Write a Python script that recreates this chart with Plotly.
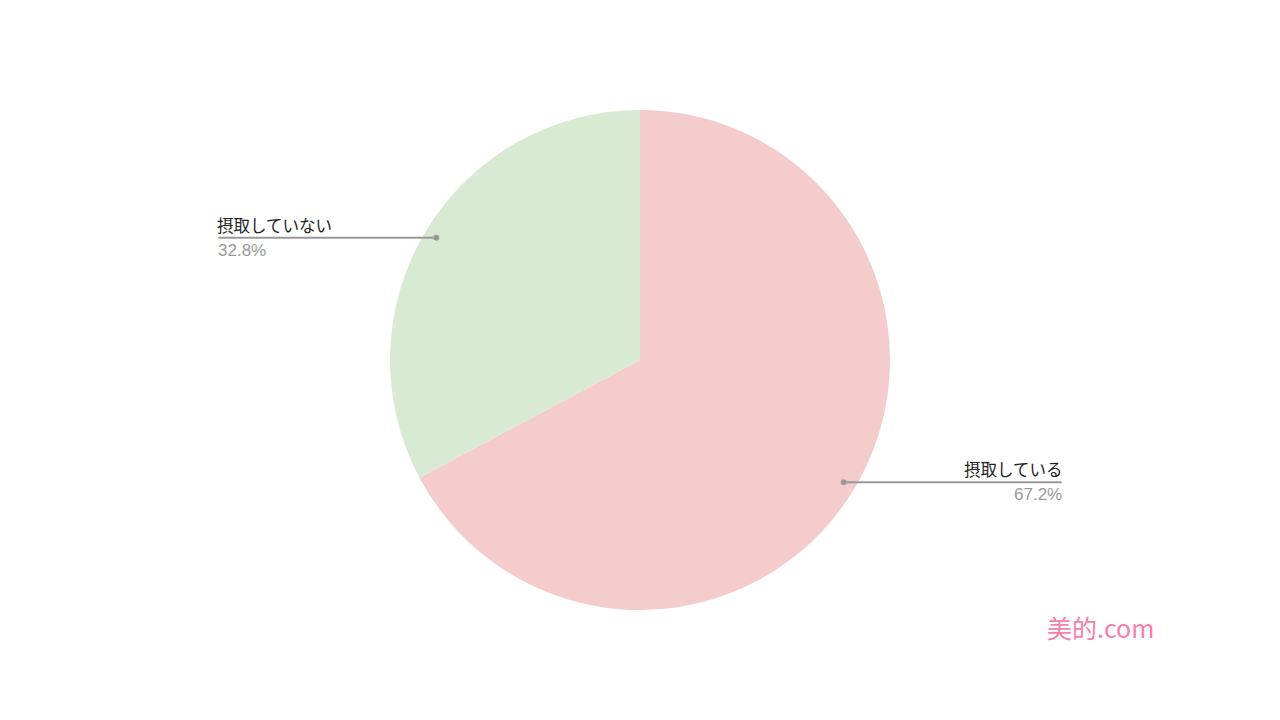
import numpy as np
import plotly.graph_objects as go

# === DONNÉES ===
labels = ["摂取している", "摂取していない"]
values = [67.2, 32.8]
colors = ["#F4CCCC", "#D9EAD3"]

# === MISE EN PAGE ===
W, H = 1280, 720
cx, cy, r = 640, 360, 250      # centre et rayon du camembert (px)
dot_r = 0.95 * r               # position du point de repère
lead_len = 218                 # longueur de la ligne horizontale (px)
font = "Liberation Sans, Arial, Noto Sans CJK JP, sans-serif"

fig = go.Figure(go.Pie(
    labels=labels,
    values=values,
    marker=dict(colors=colors, line=dict(width=0)),
    sort=False,
    direction="clockwise",
    rotation=0,
    textinfo="none",
    hoverinfo="label+percent",
    showlegend=False,
    domain=dict(x=[0, 1], y=[1 - (cy + r) / H, 1 - (cy - r) / H]),
))

shapes = []
annotations = []
total = sum(values)
start = 0.0
for lab, val in zip(labels, values):
    frac = val / total
    mid = (start + frac / 2) * 2 * np.pi   # angle depuis midi, sens horaire
    start += frac
    px = cx + dot_r * np.sin(mid)
    py = cy - dot_r * np.cos(mid)
    side = 1 if np.sin(mid) >= 0 else -1
    ex = px + side * lead_len
    xp, yp, exp_ = px / W, 1 - py / H, ex / W

    shapes.append(dict(type="line", xref="paper", yref="paper",
                       x0=xp, y0=yp, x1=exp_, y1=yp,
                       line=dict(color="#999999", width=2)))
    shapes.append(dict(type="circle", xref="paper", yref="paper",
                       xsizemode="pixel", ysizemode="pixel",
                       xanchor=xp, yanchor=yp, x0=-3, x1=3, y0=-3, y1=3,
                       fillcolor="#999999", line=dict(width=0)))

    xa = "right" if side > 0 else "left"
    annotations.append(dict(x=exp_, y=yp, xref="paper", yref="paper",
                            text=lab, showarrow=False, xanchor=xa, yanchor="bottom",
                            xshift=3 * side, yshift=1,
                            font=dict(family=font, size=16.5, color="#222222")))
    annotations.append(dict(x=exp_, y=yp, xref="paper", yref="paper",
                            text=f"{val:.1f}%", showarrow=False, xanchor=xa, yanchor="top",
                            xshift=2 * side, yshift=-1,
                            font=dict(family=font, size=17, color="#999999")))

# filigrane
annotations.append(dict(x=1156 / W, y=1 - 627 / H, xref="paper", yref="paper",
                        text="美的.com", showarrow=False, xanchor="right", yanchor="middle",
                        font=dict(family="Noto Sans CJK JP, sans-serif", size=25, color="#F77FAA")))

fig.update_layout(
    width=W, height=H,
    margin=dict(l=0, r=0, t=0, b=0),
    paper_bgcolor="white",
    plot_bgcolor="white",
    shapes=shapes,
    annotations=annotations,
)

fig.write_html("out.html", config={"displayModeBar": False},
               post_script="document.body.style.margin='0';")
